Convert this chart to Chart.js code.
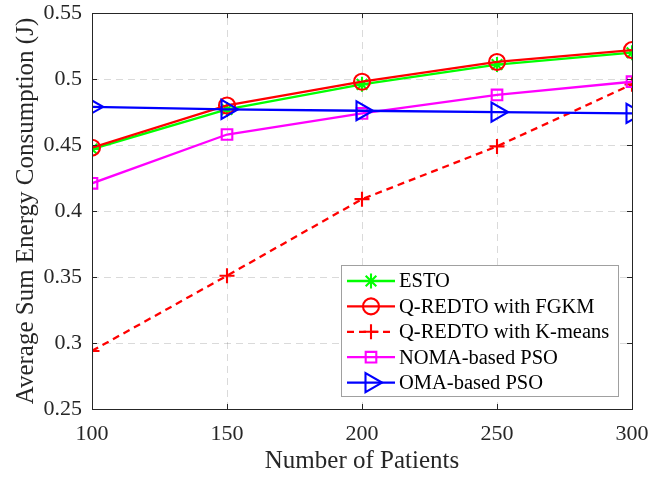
<!DOCTYPE html>
<html>
<head>
<meta charset="utf-8">
<script src="https://cdn.jsdelivr.net/npm/chart.js@4/dist/chart.umd.min.js"></script>
<style>
html,body{margin:0;padding:0;background:#fff;}
#wrap{width:665px;height:477px;}
</style>
</head>
<body>
<div id="wrap"><canvas id="c" width="665" height="477"></canvas></div>
<script>
const patients = [100, 150, 200, 250, 300];
const esto = [0.447, 0.477, 0.496, 0.511, 0.520];
const fgkm = [0.448, 0.480, 0.498, 0.513, 0.522];
const kmeans = [0.294, 0.351, 0.409, 0.449, 0.496];
const nomaPso = [0.421, 0.458, 0.474, 0.488, 0.498];
const omaPso = [0.479, 0.477, 0.476, 0.475, 0.474];
const seriesNames = ['ESTO', 'Q-REDTO with FGKM', 'Q-REDTO with K-means', 'NOMA-based PSO', 'OMA-based PSO'];
const xTicks = [100, 150, 200, 250, 300];
const yTicks = [0.25, 0.3, 0.35, 0.4, 0.45, 0.5, 0.55];
const yTickLabels = ['0.25', '0.3', '0.35', '0.4', '0.45', '0.5', '0.55'];
const xTitle = 'Number of Patients';
const yTitle = 'Average Sum Energy Consumption (J)';

const seriesValues = [esto, fgkm, kmeans, nomaPso, omaPso];
const styles = [
  {color: '#00ff00', pointStyle: 'star', radius: 7.5, rotation: 0, dash: []},
  {color: '#ff0000', pointStyle: 'circle', radius: 8, rotation: 0, dash: []},
  {color: '#ff0000', pointStyle: 'cross', radius: 7.5, rotation: 0, dash: [7, 5]},
  {color: '#ff00ff', pointStyle: 'rect', radius: 7.5, rotation: 0, dash: []},
  {color: '#0000ff', pointStyle: 'triangle', radius: 11, rotation: 90, dash: []}
];

const datasets = seriesValues.map((vals, i) => ({
  label: seriesNames[i],
  data: vals.map((v, j) => ({x: patients[j], y: v})),
  borderColor: styles[i].color,
  backgroundColor: 'transparent',
  borderWidth: 2.3,
  borderDash: styles[i].dash,
  pointStyle: styles[i].pointStyle,
  pointRadius: styles[i].radius,
  pointRotation: styles[i].rotation,
  pointBorderColor: styles[i].color,
  pointBackgroundColor: 'transparent',
  pointBorderWidth: 2.1,
  tension: 0,
  order: seriesValues.length - i
}));

Chart.defaults.font.family = "'Liberation Serif', 'DejaVu Serif', serif";
Chart.defaults.color = '#262626';

const gridColor = 'rgba(38,38,38,0.17)';

const gridPlugin = {
  id: 'gridPlugin',
  beforeDatasetsDraw(chart) {
    const {ctx, chartArea: a, scales: {x, y}} = chart;
    ctx.save();
    ctx.strokeStyle = gridColor;
    ctx.lineWidth = 1;
    ctx.setLineDash([7, 5]);
    ctx.beginPath();
    xTicks.forEach(v => {
      const px = Math.round(x.getPixelForValue(v)) + 0.5;
      ctx.moveTo(px, a.bottom); ctx.lineTo(px, a.top);
    });
    yTicks.forEach(v => {
      const py = Math.round(y.getPixelForValue(v)) + 0.5;
      ctx.moveTo(a.left, py); ctx.lineTo(a.right, py);
    });
    ctx.stroke();
    ctx.restore();
  }
};

const boxPlugin = {
  id: 'boxPlugin',
  afterDatasetsDraw(chart) {
    const {ctx, chartArea: a, scales: {x, y}} = chart;
    ctx.save();
    ctx.strokeStyle = '#262626';
    ctx.lineWidth = 1;
    ctx.setLineDash([]);
    ctx.strokeRect(Math.round(a.left) + 0.5, Math.round(a.top) + 0.5, Math.round(a.right - a.left), Math.round(a.bottom - a.top));
    const tl = 5;
    ctx.beginPath();
    xTicks.forEach(v => {
      const px = Math.round(x.getPixelForValue(v)) + 0.5;
      ctx.moveTo(px, a.bottom); ctx.lineTo(px, a.bottom - tl);
      ctx.moveTo(px, a.top); ctx.lineTo(px, a.top + tl);
    });
    yTicks.forEach(v => {
      const py = Math.round(y.getPixelForValue(v)) + 0.5;
      ctx.moveTo(a.left, py); ctx.lineTo(a.left + tl, py);
      ctx.moveTo(a.right, py); ctx.lineTo(a.right - tl, py);
    });
    ctx.stroke();
    ctx.restore();
  }
};

const legendPlugin = {
  id: 'legendPlugin',
  afterDraw(chart) {
    const {ctx, chartArea: a} = chart;
    const right = a.right - 14, bottom = a.bottom - 13;
    const w = 277, h = 131;
    const left = right - w, top = bottom - h;
    ctx.save();
    ctx.fillStyle = '#ffffff';
    ctx.fillRect(left, top, w, h);
    ctx.strokeStyle = '#a0a0a0';
    ctx.lineWidth = 1;
    ctx.strokeRect(Math.round(left) + 0.5, Math.round(top) + 0.5, w, h);
    const rowH = 25.4;
    ctx.font = "20.5px 'Liberation Serif', serif";
    ctx.textBaseline = 'middle';
    ctx.textAlign = 'left';
    seriesNames.forEach((name, i) => {
      const cy = top + 16 + rowH * i;
      const st = styles[i];
      ctx.strokeStyle = st.color;
      ctx.lineWidth = 2.3;
      ctx.setLineDash(st.dash);
      ctx.beginPath();
      ctx.moveTo(left + 6, cy);
      ctx.lineTo(left + 54, cy);
      ctx.stroke();
      ctx.setLineDash([]);
      ctx.lineWidth = 2.1;
      ctx.fillStyle = 'rgba(0,0,0,0)';
      Chart.helpers.drawPoint(ctx, {pointStyle: st.pointStyle, radius: st.radius, rotation: st.rotation, borderWidth: 2.1}, left + 30, cy);
      ctx.fillStyle = '#000000';
      ctx.fillText(name, left + 58, cy + 1);
    });
    ctx.restore();
  }
};

new Chart(document.getElementById('c'), {
  type: 'line',
  data: {datasets},
  options: {
    responsive: false,
    animation: false,
    layout: {padding: {left: 0, right: 33, top: 13, bottom: 0}},
    plugins: {legend: {display: false}, tooltip: {enabled: false}},
    scales: {
      x: {
        type: 'linear',
        min: 100, max: 300,
        afterBuildTicks: s => { s.ticks = xTicks.map(v => ({value: v})); },
        afterFit: s => { s.height = 68; s.paddingLeft = 0; s.paddingRight = 0; },
        grid: {display: false, drawTicks: false},
        border: {display: false},
        ticks: {padding: 12, font: {size: 22}, color: '#262626', maxRotation: 0},
        title: {display: true, text: xTitle, font: {size: 25, lineHeight: 1.2}, color: '#262626', padding: {top: 0, bottom: 1}}
      },
      y: {
        type: 'linear',
        min: 0.25, max: 0.55,
        afterBuildTicks: s => { s.ticks = yTicks.map(v => ({value: v})); },
        afterFit: s => { s.width = 92; s.paddingTop = 0; s.paddingBottom = 0; },
        grid: {display: false, drawTicks: false},
        border: {display: false},
        ticks: {padding: 10, font: {size: 22}, color: '#262626', callback: (v, i) => yTickLabels[i]},
        title: {display: true, text: yTitle, font: {size: 25, lineHeight: 1.2}, color: '#262626', padding: {top: 11, bottom: 0}}
      }
    }
  },
  plugins: [gridPlugin, boxPlugin, legendPlugin]
});
</script>
</body>
</html>
